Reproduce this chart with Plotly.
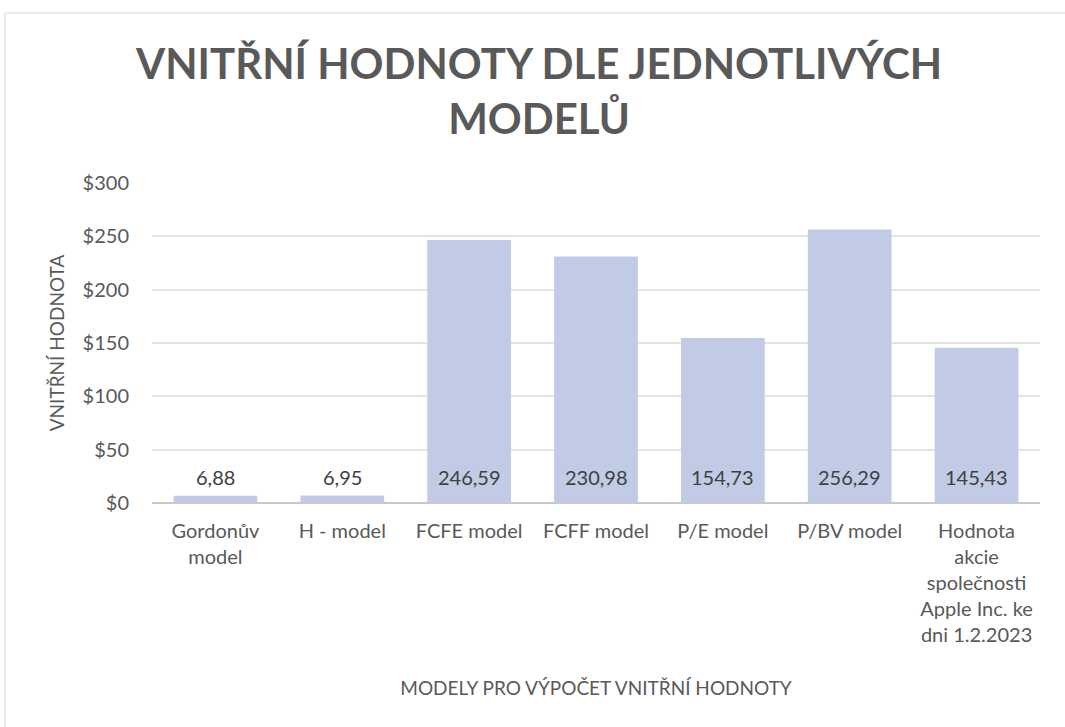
import plotly.graph_objects as go

categories = [
    "Gordonův<br>model",
    "H - model",
    "FCFE model",
    "FCFF model",
    "P/E model",
    "P/BV model",
    "Hodnota<br>akcie<br>společnosti<br>Apple Inc. ke<br>dni 1.2.2023",
]
values = [6.88, 6.95, 246.59, 230.98, 154.73, 256.29, 145.43]
labels = ["6,88", "6,95", "246,59", "230,98", "154,73", "256,29", "145,43"]
y_ticks = [0, 50, 100, 150, 200, 250, 300]
y_tick_text = ["$0", "$50", "$100", "$150", "$200", "$250", "$300"]

W, H = 1065, 727
L, R, T, B = 152, 25, 183, 224
pw = W - L - R
ph = H - T - B

fig = go.Figure()
fig.add_trace(go.Bar(
    x=categories, y=values,
    marker=dict(color="#C1CBE6", line=dict(width=0)),
    hoverinfo="skip",
))

for c, lab in zip(categories, labels):
    fig.add_annotation(
        x=c, y=0, xref="x", yref="y", text=lab, showarrow=False,
        yshift=26, yanchor="middle",
        font=dict(family="Lato", size=20, color="#404040"),
    )

# title as annotation
fig.add_annotation(
    text="<b>VNITŘNÍ HODNOTY DLE JEDNOTLIVÝCH<br>MODELŮ</b>",
    xref="paper", yref="paper",
    x=(538 - L) / pw, xanchor="center",
    y=1 + (T - 36) / ph, yanchor="top",
    showarrow=False,
    font=dict(family="Lato", size=42, color="#595959"),
)

# outer chart border
fig.add_shape(
    type="rect", xref="paper", yref="paper",
    x0=(5 - L) / pw, x1=(W + 5 - L) / pw,
    y0=-(H + 5 - T - ph) / ph, y1=1 + (T - 13) / ph,
    line=dict(color="#D9D9D9", width=1), fillcolor="rgba(0,0,0,0)",
    layer="below",
)

fig.update_layout(
    width=W, height=H,
    margin=dict(l=L, r=R, t=T, b=B, autoexpand=False),
    paper_bgcolor="white", plot_bgcolor="white",
    bargap=0.34,
    showlegend=False,
    font=dict(family="Lato", color="#595959"),
)
fig.update_yaxes(
    range=[0, 300], tickvals=y_ticks, ticktext=y_tick_text,
    showgrid=True, gridcolor="#E4E4E4", gridwidth=2,
    zeroline=True, zerolinecolor="#C8C8C8", zerolinewidth=2,
    tickfont=dict(family="Lato", size=20, color="#595959"),
    ticklabelstandoff=22,
    title=dict(text="VNITŘNÍ HODNOTA", standoff=12,
               font=dict(family="Lato", size=19, color="#595959")),
    fixedrange=True,
)
fig.update_xaxes(
    showline=False, ticks="",
    tickfont=dict(family="Lato", size=20, color="#595959"),
    ticklabelstandoff=14,
    title=dict(text="MODELY PRO VÝPOČET VNITŘNÍ HODNOTY", standoff=36,
               font=dict(family="Lato", size=19, color="#595959")),
    fixedrange=True,
)

fig.write_html("out.html", config={"displayModeBar": False},
               post_script="document.body.style.margin='0';")
